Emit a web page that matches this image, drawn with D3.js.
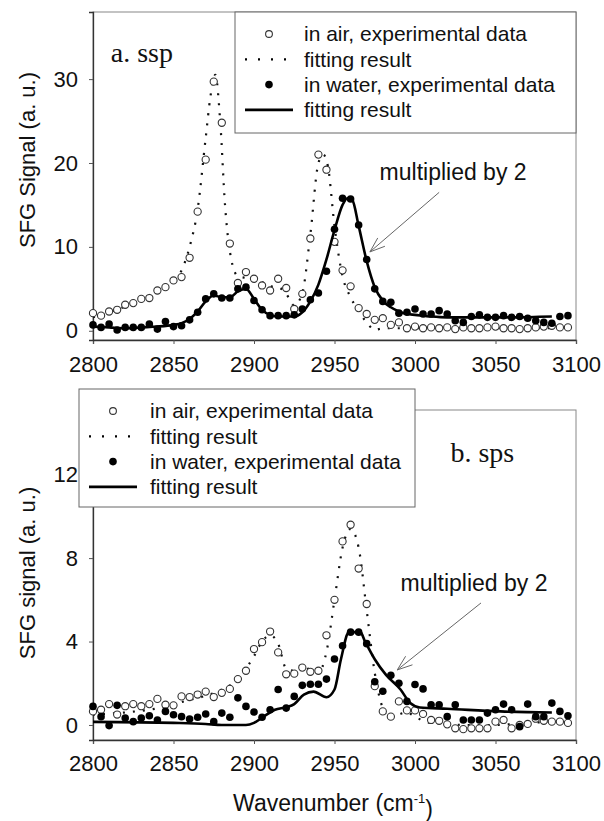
<!DOCTYPE html>
<html>
<head>
<meta charset="utf-8">
<script src="https://cdn.jsdelivr.net/npm/d3@7"></script>
<style>
body { margin: 0; background: #fff; }
svg { display: block; font-family: "Liberation Sans", Arial, sans-serif; }
</style>
</head>
<body>
<svg id="chart" width="604" height="821"></svg>
<script>
// wavenumbers of the experimental points (cm-1)
var wavenumber = [2800, 2805, 2810, 2815, 2820, 2825, 2830, 2835, 2840, 2845,
    2850, 2855, 2860, 2865, 2870, 2875, 2880, 2885, 2890, 2895,
    2900, 2905, 2910, 2915, 2920, 2925, 2930, 2935, 2940, 2945,
    2950, 2955, 2960, 2965, 2970, 2975, 2980, 2985, 2990, 2995,
    3000, 3005, 3010, 3015, 3020, 3025, 3030, 3035, 3040, 3045,
    3050, 3055, 3060, 3065, 3070, 3075, 3080, 3085, 3090, 3095];

// a. ssp
var ssp_air = [2.1, 1.8, 2.3, 2.5, 3.1, 3.3, 3.8, 3.9, 4.8, 5.2,
    6.0, 6.4, 8.7, 14.2, 20.4, 29.7, 24.8, 10.4, 5.7, 7.0,
    6.2, 5.4, 4.8, 6.2, 5.1, 2.6, 4.4, 11.0, 21.0, 19.2,
    10.6, 7.2, 5.3, 2.7, 2.0, 1.3, 1.5, 0.7, 1.0, 0.3,
    0.5, 0.3, 0.4, 0.3, 0.4, 0.2, 0.4, 0.3, 0.3, 0.4,
    0.5, 0.3, 0.3, 0.2, 0.3, 0.4, 0.5, 0.6, 0.4, 0.4];
var ssp_water = [0.7, 0.4, 0.8, 0.1, 0.4, 0.4, 0.4, 0.8, 0.2, 1.1,
    0.5, 0.6, 1.3, 2.2, 3.8, 4.4, 3.9, 3.9, 5.0, 5.2,
    3.6, 2.5, 1.8, 1.8, 1.8, 1.9, 2.6, 3.7, 4.5, 7.1,
    12.1, 15.8, 15.7, 12.6, 8.5, 5.0, 3.5, 3.4, 2.1, 2.2,
    2.6, 2.0, 2.0, 2.4, 2.0, 1.2, 1.0, 1.7, 1.9, 1.6,
    1.6, 1.8, 1.6, 1.7, 1.5, 1.2, 1.0, 0.9, 1.7, 1.8];
var ssp_air_fit_x = [2800, 2810, 2820, 2830, 2840, 2850, 2855, 2860, 2865, 2870, 2873, 2876, 2879, 2882, 2886,
    2890, 2895, 2900, 2905, 2910, 2915, 2920, 2925, 2930, 2935, 2940, 2943, 2946, 2950, 2955,
    2960, 2965, 2970, 2975, 2980, 2990, 3000, 3020, 3040, 3060, 3085];
var ssp_air_fit_y = [1.6, 2.2, 2.9, 3.7, 4.8, 6.0, 7.2, 10.0, 14.5, 23.0, 28.0, 30.5, 25.0, 15.0, 8.4,
    6.5, 6.3, 6.2, 5.8, 5.3, 5.2, 4.4, 3.0, 4.5, 11.5, 20.0, 21.0, 19.5, 12.5, 6.5,
    4.0, 2.3, 1.0, 0.1, 0.3, 0.3, 0.3, 0.3, 0.3, 0.3, 0.3];
var ssp_water_fit_x = [2800, 2810, 2820, 2830, 2840, 2850, 2855, 2860, 2865, 2870, 2875, 2880, 2885, 2890,
    2895, 2900, 2905, 2910, 2915, 2920, 2925, 2930, 2935, 2940, 2945, 2950, 2955, 2958, 2961,
    2965, 2970, 2975, 2980, 2985, 2990, 2995, 3000, 3010, 3020, 3040, 3060, 3085];
var ssp_water_fit_y = [0.5, 0.4, 0.3, 0.4, 0.5, 0.7, 0.9, 1.4, 2.3, 3.5, 4.2, 4.0, 4.0, 4.7,
    5.0, 3.8, 2.5, 1.9, 1.7, 1.7, 1.7, 2.2, 3.5, 5.5, 8.5, 12.0, 15.0, 15.8, 15.6,
    12.5, 8.3, 5.2, 3.6, 2.8, 2.3, 2.0, 1.9, 1.7, 1.6, 1.6, 1.6, 1.7];

// b. sps
var sps_air = [0.65, 0.73, 1.0, 0.5, 0.9, 1.0, 0.9, 1.0, 1.25, 0.97,
    0.94, 1.37, 1.34, 1.46, 1.6, 1.34, 1.54, 1.73, 2.2, 2.6,
    3.64, 3.97, 4.48, 3.48, 2.43, 2.46, 2.75, 2.55, 2.6, 4.3,
    6.0, 8.8, 9.6, 7.5, 5.8, 1.86, 0.65, 0.4, 1.13, 0.7,
    0.7, 0.53, 0.24, 0.2, 0.03, -0.16, -0.2, -0.16, -0.16, -0.16,
    0.16, 0.24, -0.16, 0.0, 0.05, 0.3, 0.2, 0.16, 0.16, 0.1];
var sps_water = [0.89, 0.4, -0.03, 0.94, 0.33, 0.16, 0.33, 0.44, 0.24, 0.65,
    0.49, 0.4, 0.29, 0.37, 0.53, 0.16, 0.57, 0.37, 1.3, 0.89,
    0.62, 0.37, 0.73, 1.7, 0.81, 1.37, 1.9, 1.95, 1.95, 2.2,
    3.16, 3.8, 4.45, 4.45, 3.9, 2.07, 1.62, 2.38, 2.0, 1.13,
    1.94, 1.73, 0.97, 0.97, 0.4, 0.97, 0.24, 0.24, 0.24, 0.57,
    0.73, 1.0, 0.73, -0.08, 1.0, 0.4, 0.4, 1.05, 0.65, 0.44];
var sps_air_fit_x = [2800, 2820, 2840, 2860, 2870, 2880, 2890, 2895, 2900, 2905, 2910, 2915, 2920, 2925,
    2930, 2935, 2940, 2945, 2950, 2955, 2960, 2965, 2970, 2975, 2980, 2985, 2990, 2995,
    3000, 3005, 3010, 3020, 3030, 3050, 3070, 3085];
var sps_air_fit_y = [0.5, 0.6, 0.8, 1.2, 1.4, 1.7, 2.2, 2.7, 3.3, 4.0, 4.3, 3.9, 2.7, 2.6,
    2.9, 2.6, 2.5, 3.5, 6.0, 8.5, 9.4, 8.5, 5.5, 2.5, 0.8, 0.3, 0.5, 0.6,
    0.4, 0.2, 0.1, 0.05, 0.0, 0.0, 0.1, 0.15];
var sps_water_fit_x = [2800, 2850, 2870, 2880, 2895, 2900, 2906, 2913, 2920, 2925, 2931, 2937, 2945,
    2950, 2954, 2959, 2966, 2969, 2975, 2982, 2991, 2997, 3003, 3020, 3053, 3085];
var sps_water_fit_y = [0.15, 0.1, 0.05, 0.0, 0.0, 0.1, 0.4, 0.73, 0.85, 1.0, 1.46, 1.6, 1.33,
    1.7, 3.15, 4.45, 4.45, 4.0, 3.15, 2.4, 1.7, 1.05, 0.84, 0.78, 0.65, 0.6];

var x_ticks = [2800, 2850, 2900, 2950, 3000, 3050, 3100];
var ssp_y_ticks = [0, 10, 20, 30];
var sps_y_ticks = [0, 4, 8, 12];
var legend_labels = ["in air, experimental data", "fitting result", "in water, experimental data", "fitting result"];

var svg = d3.select("#chart");

function zip(xs, ys) {
    return xs.map(function (d, i) { return [d, ys[i]]; });
}

function drawPanel(p) {
    var x = d3.scaleLinear().domain([2800, 3100]).range([p.left, p.right]);
    var y = d3.scaleLinear().domain(p.ydomain).range([p.bottom, p.top]);
    var g = svg.append("g");

    // frame
    g.append("rect")
        .attr("x", p.left).attr("y", p.top)
        .attr("width", p.right - p.left).attr("height", p.bottom - p.top)
        .attr("fill", "none").attr("stroke", "#888").attr("stroke-width", 1);

    // axes
    var xa = g.append("g")
        .attr("transform", "translate(0," + p.bottom + ")")
        .call(d3.axisBottom(x).tickValues(x_ticks).tickSize(4).tickPadding(p.xpad).tickFormat(d3.format("d")));
    var ya = g.append("g")
        .attr("transform", "translate(" + p.left + ",0)")
        .call(d3.axisLeft(y).tickValues(p.yticks).tickSize(4).tickPadding(11));
    [xa, ya].forEach(function (a) {
        a.select(".domain").attr("stroke", "#333").attr("stroke-width", 1.3);
        a.selectAll(".tick line").attr("stroke", "#555");
        a.selectAll("text").attr("font-size", 22).attr("fill", "#111")
            .attr("font-family", "'Liberation Sans', Arial, sans-serif");
    });

    var line = d3.line()
        .curve(d3.curveMonotoneX)
        .x(function (d) { return x(d[0]); })
        .y(function (d) { return y(d[1]); });

    // air fit (dotted)
    g.append("path")
        .datum(zip(p.airFitX, p.airFitY))
        .attr("d", line)
        .attr("fill", "none").attr("stroke", "#111")
        .attr("stroke-width", 2.2).attr("stroke-dasharray", "2,8");

    // air data
    g.append("g").selectAll("circle")
        .data(zip(wavenumber, p.air))
        .enter().append("circle")
        .attr("cx", function (d) { return x(d[0]); })
        .attr("cy", function (d) { return y(d[1]); })
        .attr("r", 3.6)
        .attr("fill", "white").attr("stroke", "#333").attr("stroke-width", 1.1);

    // water fit (solid)
    g.append("path")
        .datum(zip(p.waterFitX, p.waterFitY))
        .attr("d", line)
        .attr("fill", "none").attr("stroke", "#000").attr("stroke-width", 2.6);

    // water data
    g.append("g").selectAll("circle")
        .data(zip(wavenumber, p.water))
        .enter().append("circle")
        .attr("cx", function (d) { return x(d[0]); })
        .attr("cy", function (d) { return y(d[1]); })
        .attr("r", 3.8)
        .attr("fill", "#000");

    // panel label
    g.append("text")
        .attr("x", x(p.tag[0])).attr("y", y(p.tag[1]))
        .attr("font-family", "'Liberation Serif', 'Times New Roman', serif")
        .attr("font-size", 28).attr("fill", "#111")
        .text(p.tag[2]);

    // annotation + arrow
    g.append("text")
        .attr("x", x(p.note[0])).attr("y", y(p.note[1]))
        .attr("dy", "0.35em")
        .attr("font-size", 23).attr("fill", "#111")
        .text("multiplied by 2");

    var x0 = x(p.arrow[0]), y0 = y(p.arrow[1]), x1 = x(p.arrow[2]), y1 = y(p.arrow[3]);
    var ang = Math.atan2(y1 - y0, x1 - x0);
    g.append("line")
        .attr("x1", x0).attr("y1", y0).attr("x2", x1).attr("y2", y1)
        .attr("stroke", "#666").attr("stroke-width", 1);
    [-0.35, 0.35].forEach(function (da) {
        g.append("line")
            .attr("x1", x1).attr("y1", y1)
            .attr("x2", x1 - 16 * Math.cos(ang + da))
            .attr("y2", y1 - 16 * Math.sin(ang + da))
            .attr("stroke", "#666").attr("stroke-width", 1);
    });

    // y axis title
    g.append("text")
        .attr("transform", "translate(" + 27 + "," + p.titleY + ") rotate(-90)")
        .attr("text-anchor", "middle").attr("dy", "0.35em")
        .attr("font-size", 22).attr("fill", "#111")
        .text(p.ytitle);

    // legend
    var L = p.legend;
    var lg = g.append("g");
    lg.append("rect")
        .attr("x", L.x).attr("y", L.y).attr("width", L.w).attr("height", L.h)
        .attr("fill", "white").attr("stroke", "#666").attr("stroke-width", 1);
    legend_labels.forEach(function (lab, i) {
        var cy = L.y + 22 + i * 25.3;
        lg.append("text")
            .attr("x", L.x + L.tx).attr("y", cy).attr("dy", "0.35em")
            .attr("font-size", 21).attr("fill", "#111")
            .text(lab);
        if (i == 0) {
            lg.append("circle").attr("cx", L.x + L.sx).attr("cy", cy).attr("r", 3.4)
                .attr("fill", "white").attr("stroke", "#333").attr("stroke-width", 1.1);
        } else if (i == 2) {
            lg.append("circle").attr("cx", L.x + L.sx).attr("cy", cy).attr("r", 3.8).attr("fill", "#000");
        } else {
            lg.append("line")
                .attr("x1", L.x + L.sx - 24).attr("x2", L.x + L.sx + 24)
                .attr("y1", cy).attr("y2", cy)
                .attr("stroke", "#000")
                .attr("stroke-width", i == 1 ? 2.2 : 2.6)
                .attr("stroke-dasharray", i == 1 ? "2,11" : null);
        }
    });
}

drawPanel({
    left: 93, right: 576, top: 12, bottom: 340, xpad: 12,
    ydomain: [-1.1, 38], yticks: ssp_y_ticks,
    air: ssp_air, water: ssp_water,
    airFitX: ssp_air_fit_x, airFitY: ssp_air_fit_y,
    waterFitX: ssp_water_fit_x, waterFitY: ssp_water_fit_y,
    tag: [2811, 32, "a. ssp"],
    note: [2978, 18.9],
    arrow: [3015, 16.5, 2972, 9.4],
    titleY: 160, ytitle: "SFG Signal (a. u.)",
    legend: {x: 235, y: 12, w: 341, h: 121, sx: 34, tx: 69}
});

drawPanel({
    left: 93, right: 576, top: 410, bottom: 740, xpad: 11,
    ydomain: [-0.72, 15.1], yticks: sps_y_ticks,
    air: sps_air, water: sps_water,
    airFitX: sps_air_fit_x, airFitY: sps_air_fit_y,
    waterFitX: sps_water_fit_x, waterFitY: sps_water_fit_y,
    tag: [3022, 12.6, "b. sps"],
    note: [2991, 6.8],
    arrow: [3041, 5.85, 2989, 2.64],
    titleY: 573, ytitle: "SFG signal (a. u.)",
    legend: {x: 79, y: 389, w: 336, h: 118, sx: 34, tx: 71}
});

// x axis title
svg.append("text")
    .attr("x", 333).attr("y", 803).attr("text-anchor", "middle").attr("dy", "0.35em")
    .attr("font-size", 23).attr("fill", "#111")
    .text("Wavenumber (cm")
    .append("tspan").attr("dy", "-0.6em").attr("font-size", 13).text("-1")
    .select(function () { return this.parentNode; })
    .append("tspan").attr("dy", "0.6em").text(")");
</script>
</body>
</html>
